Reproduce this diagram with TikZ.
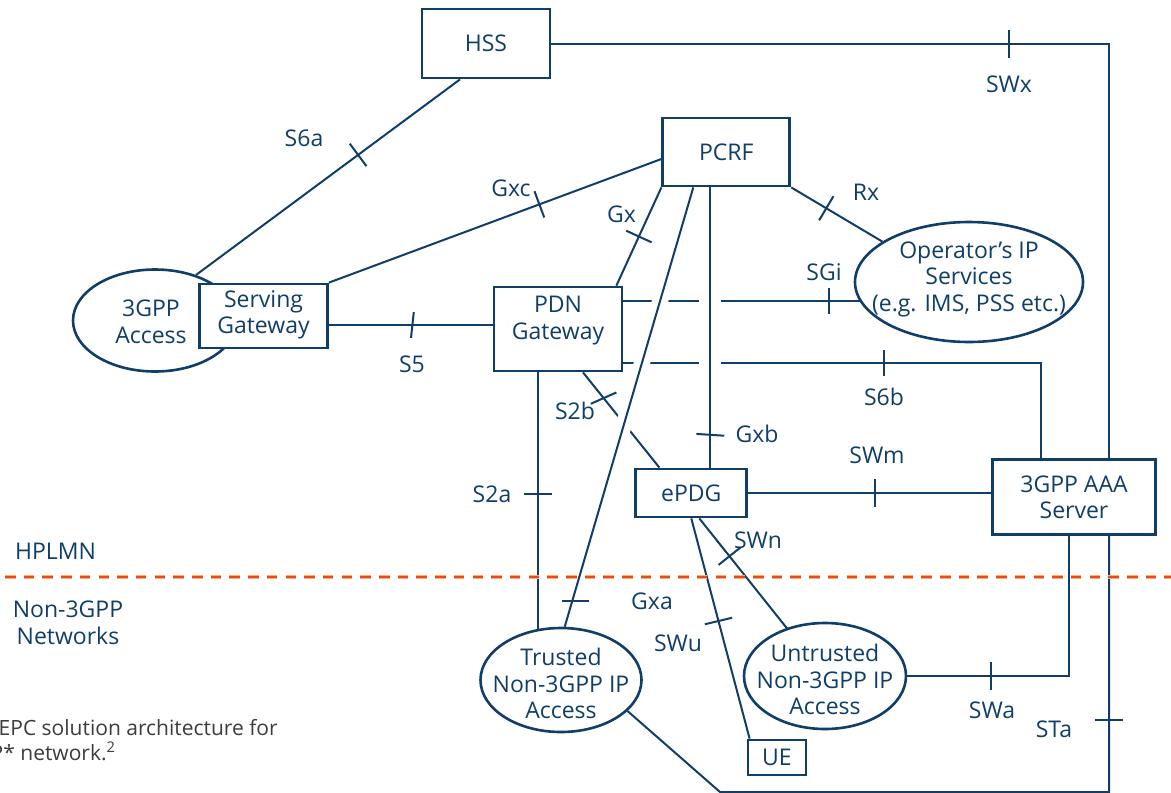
\documentclass[tikz,border=0pt]{standalone}
\usepackage{fontspec}
\setmainfont{Open Sans}
\usetikzlibrary{shapes.geometric,calc,backgrounds}
\definecolor{navy}{RGB}{16,62,104}
\definecolor{capgray}{RGB}{60,60,60}
\definecolor{netred}{RGB}{236,72,30}
\definecolor{netglow}{RGB}{249,176,104}

% short bar across an interface line at point #2, oriented by #3
\newcommand\ifacetick[3][14pt]{\draw[link] ($(#2)!#1!90:(#3)$) -- ($(#2)!#1!-90:(#3)$);}

\begin{document}
\begin{tikzpicture}[x=1pt,y=-1pt,
  every node/.style={font=\fontsize{23}{26.5}\selectfont, text=navy, inner sep=0pt},
  box/.style={draw=navy, line width=2.8pt, fill=white, align=center},
  area/.style={ellipse, draw=navy, line width=2.6pt, fill=white},
  link/.style={draw=navy, line width=2pt},
  halo/.style={preaction={draw=white, line width=#1}},
  iface/.style={align=center},
  capt/.style={font=\fontsize{21}{25}\selectfont, text=capgray},
]
\useasboundingbox (0,0) rectangle (1171,793);

% ---- network elements ----
\node[box, minimum width=128pt, minimum height=69pt] (hss) at (486,43.5) {HSS};
\node[box, minimum width=127pt, minimum height=68pt] (pcrf) at (726.3,152) {PCRF};
\node[area, minimum width=164pt, minimum height=102pt] (acc) at (155,320.5) {};
\node[iface] (acc-txt) at (151,321.7) {3GPP\\Access};
\node[box, minimum width=128pt, minimum height=64pt] (sgw) at (263.5,316) {};
\node[iface] (sgw-txt) at (263.5,315) {Serving\\Gateway};
\node[box, minimum width=128pt, minimum height=84pt] (pdn) at (558,329) {};
\node[iface] (pdn-txt) at (558,320.5) {PDN\\Gateway};
\node[area, minimum width=228pt, minimum height=120pt] (ops) at (969,282) {};
\node[iface] (ops-txt) at (969,279) {Operator's IP\\Services\\(e.g. IMS, PSS etc.)};
\node[box, minimum width=111pt, minimum height=48pt] (epdg) at (691.3,493) {ePDG};
\node[box, minimum width=163pt, minimum height=75pt] (aaa) at (1074,496.7) {};
\node[iface] (aaa-txt) at (1074,497.5) {3GPP AAA\\Server};
\node[area, minimum width=161pt, minimum height=104pt] (trust) at (561,680) {};
\node[iface] (trust-txt) at (561,683.5) {Trusted\\Non-3GPP IP\\Access};
\node[area, minimum width=162pt, minimum height=106pt] (unt) at (825,676) {};
\node[iface] (unt-txt) at (825,679.7) {Untrusted\\Non-3GPP IP\\Access};
\node[box, minimum width=58pt, minimum height=35pt] (ue) at (777,757.5) {UE};

% ---- reference points (interfaces), behind the elements ----
\begin{scope}[on background layer]
  \coordinate (sta-a) at (1109,792);
  \coordinate (sta-b) at (720,792);

  \draw[link] ($(hss.south)+(-26,0)$) -- (acc.48) coordinate[pos=0.386] (t-s6a);
  \draw[link] ($(pcrf.west)+(0,7)$) -- (sgw.north east) coordinate[pos=0.367] (t-gxc);
  \draw[link] (pcrf.south west) -- ($(pdn.north east)+(-7,0)$) coordinate[pos=0.5] (t-gx);
  \draw[link] (pcrf.south east) -- (ops.155) coordinate[pos=0.385] (t-rx);
  \draw[link] ($(sgw.east)+(0,9)$) coordinate (s5-start) -- (s5-start -| pdn.west) coordinate[pos=0.51] (t-s5);
  \draw[link] ($(pdn.north east)+(0,15)$) coordinate (sgi-start) -- (sgi-start -| ops.center) coordinate[pos=0.594] (t-sgi);
  \draw[link] ($(pdn.south east)+(0,-9)$) coordinate (s6b-start) -| ($(aaa.north)+(-33,0)$) coordinate[pos=0.3125] (t-s6b);
  \draw[link] (hss.east) -| ($(aaa.north)+(35,0)$) coordinate[pos=0.41] (t-swx);
  \draw[link] ($(pdn.south)+(-20,0)$) coordinate (s2a-top) -- (s2a-top |- trust.center) coordinate[pos=0.395] (t-s2a);
  \draw[link] ($(pdn.south)+(25,0)$) -- ($(epdg.north west)+(25,0)$) coordinate[pos=0.27] (t-s2b);
  \draw[link] (epdg.east) -- (epdg.east -| aaa.west) coordinate[pos=0.524] (t-swm);
  \draw[link] ($(epdg.south)+(8,0)$) -- (unt.center) coordinate[pos=0.24] (t-swn);
  \draw[link] (epdg.south) -- ($(ue.north west)+(3,0)$) coordinate[pos=0.466] (t-swu);
  \draw[link] (unt.east) -| ($(aaa.south)+(-5,0)$) coordinate[pos=0.2577] (t-swa);
  \draw[link] ($(aaa.south)+(35,0)$) -- (sta-a) coordinate[pos=0.72] (t-sta) -- (sta-b) -- (trust.-25);

  % PCRF lines that pass over the others
  \draw[link, halo=16pt] ($(pcrf.south)+(-33,0)$) -- (trust.86) coordinate[pos=0.941] (t-gxa);
  \draw[link, halo=22pt] ($(pcrf.south)+(-16,0)$) -- ($(epdg.north)+(19,0)$) coordinate[pos=0.883] (t-gxb);

  % interface bars
  \ifacetick{t-s6a}{acc.48}
  \ifacetick{t-gxc}{sgw.north east}
  \ifacetick{t-gx}{pcrf.south west}
  \ifacetick{t-rx}{pcrf.south east}
  \ifacetick[13pt]{t-s5}{sgw.east}
  \ifacetick[13pt]{t-sgi}{sgi-start}
  \ifacetick[13pt]{t-s6b}{s6b-start}
  \ifacetick{t-swx}{hss.east}
  \ifacetick{t-s2a}{s2a-top}
  \ifacetick{t-s2b}{epdg.north west}
  \ifacetick{t-swm}{epdg.east}
  \ifacetick{t-swn}{unt.center}
  \ifacetick{t-swu}{ue.north west}
  \ifacetick{t-swa}{unt.east}
  \ifacetick{t-sta}{sta-a}
  \ifacetick{t-gxb}{pcrf.south}
  \draw[link] ($(t-gxa)+(-10,0)$) -- ($(t-gxa)+(17,0)$);
\end{scope}

% ---- interface names ----
\node (l-s6a) at (304,138.5) {S6a};
\node (l-gxc) at (511,188) {Gxc};
\node (l-gx)  at (621.5,214.5) {Gx};
\node (l-rx)  at (866,192) {Rx};
\node (l-sgi) at (824,272) {SGi};
\node (l-s5)  at (412,364) {S5};
\node (l-s6b) at (884,397) {S6b};
\node (l-s2b) at (575,411) {S2b};
\node (l-gxb) at (757,434) {Gxb};
\node (l-swm) at (877,455) {SWm};
\node (l-s2a) at (492,494) {S2a};
\node (l-swn) at (758,540) {SWn};
\node (l-gxa) at (652,601) {Gxa};
\node (l-swu) at (678,643) {SWu};
\node (l-swa) at (992,710) {SWa};
\node (l-sta) at (1054,729) {STa};
\node (l-swx) at (1009,84) {SWx};

% ---- domains ----
\node (hplmn) at (55.5,551) {HPLMN};
\node[iface] (non3gpp) at (68,623) {Non-3GPP\\Networks};

% ---- caption ----
\node[capt, anchor=base west] (cap1) at (-1.5,735) {EPC solution architecture for};
\node[capt, anchor=base west] (cap2) at (-9.5,760) {P* network.\textsuperscript{2}};

% ---- domain border ----
\coordinate (hp-l) at (5,577);
\coordinate (hp-r) at (1171,577);
\draw[netglow, line width=4.5pt, dash pattern=on 10.5pt off 8.2pt] (hp-l) -- (hp-r);
\draw[netred, line width=2.2pt, dash pattern=on 10.5pt off 8.2pt] (hp-l) -- (hp-r);
\end{tikzpicture}
\end{document}
